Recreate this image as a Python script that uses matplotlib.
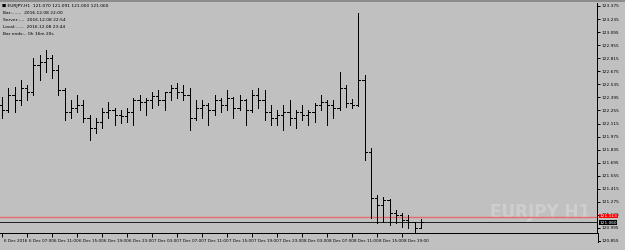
import matplotlib
matplotlib.use('Agg')
import matplotlib.pyplot as plt
import matplotlib.transforms as mtransforms

# hourly EURJPY bars, 6 Dec 2016 03:00 .. 8 Dec 2016 22:00
opens = [122.313, 122.260, 122.421, 122.367, 122.496, 122.453, 122.742, 122.774, 122.817, 122.689,
         122.474, 122.238, 122.281, 122.313, 122.174, 122.067, 122.131, 122.238, 122.260, 122.206,
         122.195, 122.238, 122.367, 122.346, 122.367, 122.410, 122.367, 122.453, 122.496, 122.453,
         122.421, 122.174, 122.281, 122.313, 122.260, 122.367, 122.313, 122.388, 122.281, 122.367,
         122.260, 122.421, 122.367, 122.238, 122.174, 122.206, 122.238, 122.174, 122.238, 122.206,
         122.238, 122.313, 122.346, 122.313, 122.281, 122.496, 122.335, 122.313, 122.581, 121.810,
         121.316, 121.241, 121.295, 121.156, 121.134, 121.081, 121.059, 120.995]
highs = [122.399, 122.496, 122.506, 122.581, 122.528, 122.817, 122.849, 122.903, 122.849, 122.742,
         122.496, 122.367, 122.421, 122.367, 122.206, 122.174, 122.281, 122.346, 122.281, 122.260,
         122.281, 122.388, 122.421, 122.388, 122.453, 122.474, 122.453, 122.528, 122.549, 122.528,
         122.496, 122.367, 122.367, 122.335, 122.421, 122.388, 122.474, 122.399, 122.421, 122.378,
         122.474, 122.496, 122.474, 122.313, 122.260, 122.313, 122.367, 122.260, 122.313, 122.260,
         122.335, 122.421, 122.367, 122.367, 122.667, 122.528, 122.378, 123.300, 122.635, 121.852,
         121.349, 121.327, 121.306, 121.188, 121.156, 121.134, 121.059, 121.091]
lows = [122.174, 122.238, 122.238, 122.313, 122.367, 122.421, 122.581, 122.667, 122.603, 122.421,
        122.153, 122.174, 122.238, 122.131, 121.938, 122.013, 122.067, 122.174, 122.099, 122.120,
        122.131, 122.099, 122.260, 122.206, 122.281, 122.313, 122.260, 122.367, 122.388, 122.367,
        122.045, 122.153, 122.174, 122.099, 122.206, 122.238, 122.260, 122.174, 122.260, 122.099,
        122.238, 122.281, 122.153, 122.099, 122.099, 122.045, 122.099, 122.067, 122.153, 122.099,
        122.131, 122.260, 122.099, 122.174, 122.260, 122.292, 122.281, 122.303, 121.724, 121.102,
        121.048, 121.059, 121.027, 121.048, 121.005, 120.995, 120.920, 121.000]
closes = [122.260, 122.421, 122.367, 122.496, 122.453, 122.742, 122.774, 122.817, 122.689, 122.474,
          122.238, 122.281, 122.313, 122.174, 122.067, 122.131, 122.238, 122.260, 122.206, 122.195,
          122.238, 122.367, 122.346, 122.367, 122.410, 122.367, 122.453, 122.496, 122.453, 122.421,
          122.174, 122.281, 122.313, 122.260, 122.367, 122.313, 122.388, 122.281, 122.367, 122.260,
          122.421, 122.367, 122.238, 122.174, 122.206, 122.238, 122.174, 122.238, 122.206, 122.238,
          122.313, 122.346, 122.313, 122.281, 122.496, 122.335, 122.313, 122.581, 121.810, 121.316,
          121.241, 121.295, 121.156, 121.134, 121.081, 121.059, 120.995, 121.060]

bid = 121.060
ask = 121.113

price_ticks = [123.375, 123.235, 123.095, 122.955, 122.815, 122.675, 122.535, 122.395, 122.255,
               122.115, 121.975, 121.835, 121.695, 121.555, 121.415, 121.275, 121.135, 120.995]
bottom_price = 120.855

time_labels = ['6 Dec 2016', '6 Dec 07:00', '6 Dec 11:00', '6 Dec 15:00', '6 Dec 19:00',
               '6 Dec 23:00', '7 Dec 03:00', '7 Dec 07:00', '7 Dec 11:00', '7 Dec 15:00',
               '7 Dec 19:00', '7 Dec 23:00', '8 Dec 03:00', '8 Dec 07:00', '8 Dec 11:00',
               '8 Dec 15:00', '8 Dec 19:00']
time_positions = [0, 4, 8, 12, 16, 20, 24, 28, 32, 36, 40, 44, 48, 52, 56, 60, 64]

header = ['EURJPY,H1  121.070 121.091 121.000 121.060',
          'Bar:.......  2016.12.08 22:00',
          'Server:....  2016.12.08 22:54',
          'Local:......  2016.12.08 23:44',
          'Bar ends:.. 0h 16m 20s']

BG = '#c0c0c0'
W, H = 625, 250
PX = 0.72  # one pixel in points at 100 dpi
FS = 3.0

fig = plt.figure(figsize=(6.25, 2.5), dpi=100, facecolor=BG)
# chart area: x 0..597 px, y 3..233 px
ax = fig.add_axes([0, 17 / H, 597 / W, 230 / H], facecolor=BG)

x = list(range(len(opens)))
ax.vlines(x, lows, highs, color='black', lw=PX, antialiased=False)
ax.hlines(opens, [i - 0.33 for i in x], x, color='black', lw=PX, antialiased=False)
ax.hlines(closes, x, [i + 0.33 for i in x], color='black', lw=PX, antialiased=False)

ax.axhline(ask, color='#e86a6a', lw=1.0, zorder=1)
ax.axhline(bid, color='#202020', lw=PX, antialiased=False, zorder=1)

# axis limits: bar i sits at pixel 2 + 6.25*i
ax.set_xlim(-2 / 6.25, 595 / 6.25)
ax.set_ylim(123.439 - 0.01072 * 233, 123.439 - 0.01072 * 3)

for s in ['top', 'left']:
    ax.spines[s].set_visible(False)
for s in ['right', 'bottom']:
    ax.spines[s].set_color('black')
    ax.spines[s].set_linewidth(PX)

ax.yaxis.tick_right()
ax.set_yticks(price_ticks)
ax.set_yticklabels(['%.3f' % p for p in price_ticks])
ax.tick_params(axis='y', direction='out', length=2, width=PX, pad=1.2, labelsize=3.1)

ax.set_xticks(time_positions)
ax.set_xticklabels(time_labels)
ax.tick_params(axis='x', direction='out', length=3, width=PX, pad=1.5, labelsize=FS)
off = mtransforms.ScaledTranslation(1.5 / 100, 0, fig.dpi_scale_trans)
for lab in ax.get_xticklabels():
    lab.set_ha('left')
    lab.set_transform(lab.get_transform() + off)

# bottom price label below the chart area
fig.add_artist(plt.Line2D([597.5 / W, 597.5 / W], [17 / H, 8 / H], color='black', lw=PX))
fig.add_artist(plt.Line2D([597.5 / W, 600 / W], [9 / H, 9 / H], color='black', lw=PX))
fig.text(601.5 / W, 9 / H, '%.3f' % bottom_price, fontsize=3.1, va='center', ha='left')

# price boxes (nudged apart by one pixel like the terminal does)
for val, col, dy in [(ask, '#ff0000', 1.0), (bid, 'black', -1.0)]:
    shift = mtransforms.ScaledTranslation(0, dy / 100, fig.dpi_scale_trans)
    ax.text(1.004, val, '%.3f' % val, transform=ax.get_yaxis_transform() + shift,
            fontsize=3.1, color='white', va='center', ha='left', clip_on=False, zorder=5,
            bbox=dict(boxstyle='square,pad=0.1', fc=col, ec='none'))

# chart shift marker
ax.plot([583], [123.439 - 0.01072 * 226], marker='s', ms=2.2, color='#8a8a8a',
        mec='#6a6a6a', mew=0.4, zorder=2)

# watermark
ax.text(590 / 597, (250 - 212 - 17) / 230, 'EURJPY H1', transform=ax.transAxes,
        fontsize=13.5, fontweight='bold', fontstretch='condensed',
        family=['Liberation Sans Narrow', 'DejaVu Sans'],
        color='#cecece', ha='right', va='center', zorder=0)

# header block
fig.text(2 / W, 1 - 6 / H, '\u25a0 ' + header[0], fontsize=3.2, va='center', ha='left')
for k, line in enumerate(header[1:]):
    fig.text(3 / W, 1 - (13 + 7 * k) / H, line, fontsize=3.2, va='center', ha='left')

# top border strip
fig.add_artist(plt.Rectangle((0, 1 - 2 / H), 1, 2 / H, transform=fig.transFigure,
                             fc='#8c8c8c', ec='none'))

fig.savefig('out.png', dpi=100, facecolor=BG)
